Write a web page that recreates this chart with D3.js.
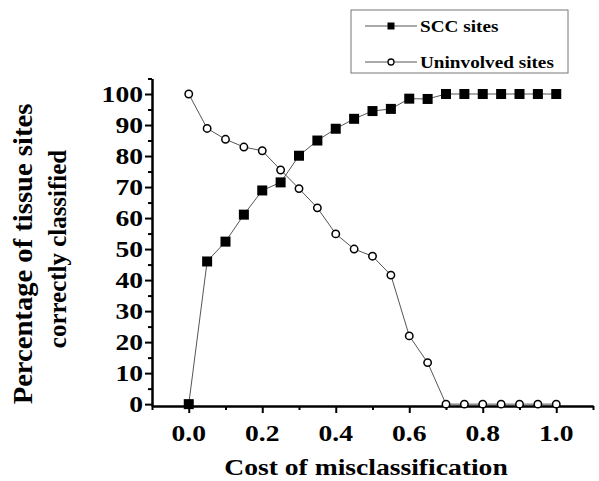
<!DOCTYPE html>
<html>
<head>
<meta charset="utf-8">
<script src="https://cdn.jsdelivr.net/npm/d3@7"></script>
<style>
  body { margin: 0; background: #fff; }
  text { font-family: "Liberation Serif", "Times New Roman", serif; font-weight: bold; fill: #000; }
</style>
</head>
<body>
<svg id="chart" width="599" height="481"></svg>
<script>
// data
const costs = [0, 0.05, 0.1, 0.15, 0.2, 0.25, 0.3, 0.35, 0.4, 0.45, 0.5,
               0.55, 0.6, 0.65, 0.7, 0.75, 0.8, 0.85, 0.9, 0.95, 1.0];
const sccSites = [0, 46, 52.4, 61.1, 68.9, 71.5, 80.1, 85, 88.8, 92, 94.5,
                  95.2, 98.5, 98.4, 100, 100, 100, 100, 100, 100, 100];
const uninvolvedSites = [100, 88.9, 85.4, 82.9, 81.7, 75.5, 69.5, 63.3, 54.9, 50, 47.7,
                         41.6, 22, 13.4, 0, 0, 0, 0, 0, 0, 0];
const seriesNames = ["SCC sites", "Uninvolved sites"];

const xMajor = [0, 0.2, 0.4, 0.6, 0.8, 1.0];
const xMinor = [-0.1, 0.1, 0.3, 0.5, 0.7, 0.9, 1.1];
const yMajor = [0, 10, 20, 30, 40, 50, 60, 70, 80, 90, 100];
const yMinor = [5, 15, 25, 35, 45, 55, 65, 75, 85, 95, 105];

const xTitle = "Cost of misclassification";
const yTitle = ["Percentage of tissue sites", "correctly classified"];

const svg = d3.select("#chart");

const x = d3.scaleLinear().domain([-0.1, 1.1]).range([152, 593]);
const y = d3.scaleLinear().domain([-0.6, 105]).range([406, 78.5]);

// axes: lines and ticks only, labels drawn below
function styleAxis(g) {
  g.selectAll("path, line").attr("stroke", "#000").attr("stroke-width", 2);
  g.selectAll("text").remove();
}

svg.append("g").attr("transform", "translate(0,406)")
  .call(d3.axisBottom(x).tickValues(xMajor).tickSize(7).tickSizeOuter(0))
  .call(styleAxis);
svg.append("g").attr("transform", "translate(0,406)")
  .call(d3.axisBottom(x).tickValues(xMinor).tickSize(4).tickSizeOuter(0))
  .call(styleAxis);
svg.append("g").attr("transform", "translate(152,0)")
  .call(d3.axisLeft(y).tickValues(yMajor).tickSize(7).tickSizeOuter(0))
  .call(styleAxis);
svg.append("g").attr("transform", "translate(152,0)")
  .call(d3.axisLeft(y).tickValues(yMinor).tickSize(4).tickSizeOuter(0))
  .call(styleAxis);

// tick labels (the original type is a bit wide, so stretch it)
svg.append("g").selectAll("text")
  .data(xMajor).enter().append("text")
  .attr("text-anchor", "middle")
  .attr("font-size", 23)
  .attr("transform", d => "translate(" + x(d) + ",441) scale(1.2,1)")
  .text(d => d3.format(".1f")(d));

svg.append("g").selectAll("text")
  .data(yMajor).enter().append("text")
  .attr("text-anchor", "end")
  .attr("font-size", 23)
  .attr("transform", d => "translate(143," + (y(d) + 7.5) + ") scale(1.2,1)")
  .text(d => d);

// axis titles
svg.append("text")
  .attr("text-anchor", "middle")
  .attr("font-size", 23)
  .attr("transform", "translate(366,475) scale(1.2,1)")
  .text(xTitle);

svg.append("text")
  .attr("text-anchor", "middle")
  .attr("font-size", 27)
  .attr("transform", "translate(32,254) rotate(-90) scale(1.06,1)")
  .text(yTitle[0]);
svg.append("text")
  .attr("text-anchor", "middle")
  .attr("font-size", 26)
  .attr("transform", "translate(66,249) rotate(-90) scale(0.96,1)")
  .text(yTitle[1]);

// series lines
const line = d3.line().x(d => x(d[0])).y(d => y(d[1]));
const sccPts = costs.map((c, i) => [c, sccSites[i]]);
const uninPts = costs.map((c, i) => [c, uninvolvedSites[i]]);

[sccPts, uninPts].forEach(pts => {
  svg.append("path")
    .attr("d", line(pts))
    .attr("fill", "none")
    .attr("stroke", "#555")
    .attr("stroke-width", 1);
});

// markers
svg.append("g").selectAll("rect")
  .data(sccPts).enter().append("rect")
  .attr("x", d => x(d[0]) - 5)
  .attr("y", d => y(d[1]) - 5)
  .attr("width", 10).attr("height", 10)
  .attr("fill", "#000");

svg.append("g").selectAll("circle")
  .data(uninPts).enter().append("circle")
  .attr("cx", d => x(d[0]))
  .attr("cy", d => y(d[1]))
  .attr("r", 3.7)
  .attr("fill", "#fff")
  .attr("stroke", "#000")
  .attr("stroke-width", 1.5);

// legend
const legend = svg.append("g");
legend.append("rect")
  .attr("x", 351).attr("y", 10).attr("width", 217).attr("height", 63)
  .attr("fill", "#fff").attr("stroke", "#777").attr("stroke-width", 1);

const rows = legend.selectAll("g.row")
  .data(seriesNames).enter().append("g")
  .attr("class", "row")
  .attr("transform", (d, i) => "translate(0," + (i === 0 ? 26 : 62) + ")");

rows.append("line")
  .attr("x1", 365).attr("x2", 417)
  .attr("stroke", "#555").attr("stroke-width", 1);
rows.filter((d, i) => i === 0).append("rect")
  .attr("x", 387.5).attr("y", -3.5).attr("width", 7).attr("height", 7)
  .attr("fill", "#000");
rows.filter((d, i) => i === 1).append("circle")
  .attr("cx", 391).attr("r", 3)
  .attr("fill", "#fff").attr("stroke", "#000").attr("stroke-width", 1.3);
rows.append("text")
  .attr("font-size", 17)
  .attr("transform", "translate(420,5.5) scale(1.13,1)")
  .text(d => d);
</script>
</body>
</html>
